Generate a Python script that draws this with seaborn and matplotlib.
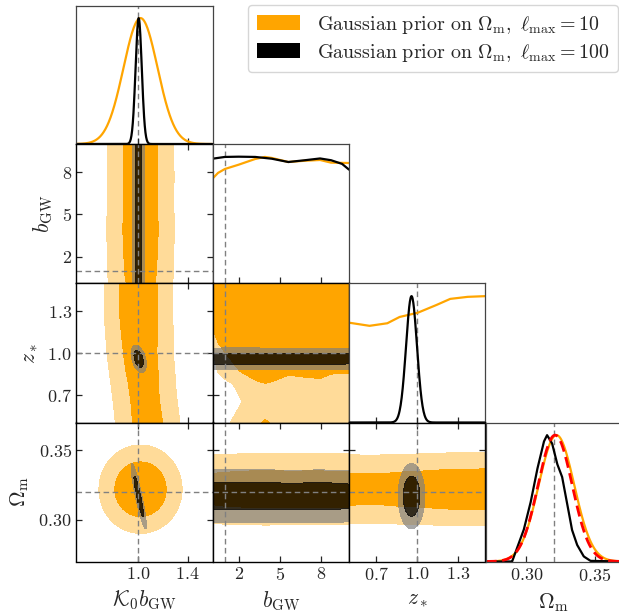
import numpy as np
import pandas as pd
import matplotlib
matplotlib.use("Agg")
import matplotlib.pyplot as plt
import seaborn as sns
from matplotlib.patches import Patch

# ---------------- data ----------------
param_labels = [r"$\mathcal{K}_0 b_{\rm GW}$", r"$b_{\rm GW}$", r"$z_*$", r"$\Omega_{\rm m}$"]
param_ranges = [(0.5, 1.6), (0.1, 10.0), (0.5, 1.5), (0.27, 0.37)]
param_ticks = [[1.0, 1.4], [2, 5, 8], [0.7, 1.0, 1.3], [0.30, 0.35]]
param_ticklabels = [["1.0", "1.4"], ["2", "5", "8"], ["0.7", "1.0", "1.3"], ["0.30", "0.35"]]
truth_values = [1.0, 1.0, 1.0, 0.32]
legend_labels = [r"$\mathrm{Gaussian\ prior\ on\ }\Omega_{\rm m},\ \ell_{\rm max} = 10$",
                 r"$\mathrm{Gaussian\ prior\ on\ }\Omega_{\rm m},\ \ell_{\rm max} = 100$"]

# orange chain (lmax = 10)
or_K0_mean, or_K0_sigma = 1.02, 0.137
or_K0_cond_z = [0.5, 0.75, 1.0, 1.25, 1.5]          # K0 centre as a function of z*
or_K0_cond_mean = [1.077, 1.045, 1.017, 1.005, 1.003]
or_bgw_x = [0.1, 0.5, 1.0, 2.0, 3.2, 3.9, 4.4, 5.6, 6.8, 7.9, 8.7, 10.0]
or_bgw_p = [0.827, 0.872, 0.903, 0.937, 0.982, 0.998, 0.99, 0.958, 0.968, 0.974, 0.953, 0.95]
or_z_x = [0.5, 0.65, 0.78, 0.87, 1.0, 1.12, 1.24, 1.36, 1.5]
or_z_p = [0.79, 0.765, 0.785, 0.835, 0.867, 0.92, 0.978, 0.994, 1.0]
or_Om_mean, or_Om_sigma = 0.322, 0.013

# black chain (lmax = 100)
bk_means = [1.005, np.nan, 0.958, 0.317]
bk_sigmas = [0.025, np.nan, 0.04, 0.0096]
bk_corr = {(0, 2): -0.4, (0, 3): -0.9, (2, 3): 0.0}
bk_bgw_x = [0.1, 1.0, 2.0, 3.2, 4.4, 5.6, 6.8, 7.9, 8.7, 9.5, 10.0]
bk_bgw_p = [0.984, 0.998, 1.0, 0.998, 0.984, 0.958, 0.972, 0.986, 0.972, 0.943, 0.898]
bk_Om_x = [0.27, 0.2895, 0.298, 0.3029, 0.3078, 0.3127, 0.3151, 0.3188, 0.3224,
           0.3261, 0.3298, 0.3334, 0.3371, 0.342, 0.3468, 0.37]
bk_Om_p = [0.0, 0.0, 0.25, 0.46, 0.724, 0.947, 1.0, 0.934, 0.776,
           0.671, 0.461, 0.25, 0.132, 0.04, 0.005, 0.0]

# red dashed: Gaussian prior on Omega_m
prior_Om_mean, prior_Om_sigma = 0.321, 0.0125

# ---------------- style ----------------
sns.set_style("ticks")
plt.rcParams["font.family"] = "serif"
plt.rcParams["font.serif"] = ["cmr10", "DejaVu Serif"]
plt.rcParams["mathtext.fontset"] = "cm"
plt.rcParams["axes.unicode_minus"] = False

ORANGE = "#FFA500"
ORANGE_LIGHT = "#FFDB99"
GREY_RING = "#7d7d7d"
TRUTH_C = "#808080"
TICK_FS = 13
LABEL_FS = 15.5

def gauss(x, m, s):
    return np.exp(-0.5 * ((x - m) / s) ** 2)

def or_marg(k, x):
    if k == 0:
        return gauss(x, or_K0_mean, or_K0_sigma)
    if k == 1:
        return np.interp(x, or_bgw_x, or_bgw_p)
    if k == 2:
        return np.interp(x, or_z_x, or_z_p)
    return gauss(x, or_Om_mean, or_Om_sigma)

def or_joint(i, j, X, Y):
    if (i, j) == (2, 0):
        return gauss(X, np.interp(Y, or_K0_cond_z, or_K0_cond_mean), or_K0_sigma) * or_marg(2, Y)
    return or_marg(j, X) * or_marg(i, Y)

def bk_marg(k, x):
    if k == 1:
        return np.interp(x, bk_bgw_x, bk_bgw_p)
    return gauss(x, bk_means[k], bk_sigmas[k])

def bk_marg_1d(k, x):
    if k == 3:
        return np.interp(x, bk_Om_x, bk_Om_p)
    return bk_marg(k, x)

def bk_joint(i, j, X, Y):
    if i == 1 or j == 1:
        return bk_marg(j, X) * bk_marg(i, Y)
    rho = bk_corr[(j, i)]
    u = (X - bk_means[j]) / bk_sigmas[j]
    v = (Y - bk_means[i]) / bk_sigmas[i]
    return np.exp(-0.5 * (u * u - 2 * rho * u * v + v * v) / (1 - rho ** 2))

def hpd_levels(P, fracs=(0.95, 0.68)):
    flat = np.sort(P.ravel())[::-1]
    c = np.cumsum(flat)
    c /= c[-1]
    return [flat[min(np.searchsorted(c, f), flat.size - 1)] for f in fracs]

# ---------------- layout ----------------
W, H = 619, 613
fig = plt.figure(figsize=(W / 100, H / 100), dpi=100)
xedges = [76, 212.5, 349, 485.5, 622]
yedges = [5.5, 144, 283.5, 422.5, 561.5]
n = 4
axes = {}
for i in range(n):
    for j in range(i + 1):
        x0, x1 = xedges[j], xedges[j + 1]
        y0, y1 = yedges[i], yedges[i + 1]
        axes[(i, j)] = fig.add_axes([x0 / W, 1 - y1 / H, (x1 - x0) / W, (y1 - y0) / H])

truth_ls = (0, (4, 2.5))
LW = 1.6

for i in range(n):
    for j in range(i + 1):
        ax = axes[(i, j)]
        xr = param_ranges[j]
        if i == j:
            xs = np.linspace(xr[0], xr[1], 400)
            if i != 1:
                df = pd.DataFrame({"x": xs, "orange": or_marg(i, xs), "black": bk_marg_1d(i, xs)})
                sns.lineplot(data=df, x="x", y="orange", ax=ax, color=ORANGE, lw=LW, estimator=None, sort=False)
                sns.lineplot(data=df, x="x", y="black", ax=ax, color="black", lw=LW, estimator=None, sort=False)
            else:
                sns.lineplot(x=or_bgw_x, y=or_bgw_p, ax=ax, color=ORANGE, lw=LW, estimator=None, sort=False)
                sns.lineplot(x=bk_bgw_x, y=bk_bgw_p, ax=ax, color="black", lw=LW, estimator=None, sort=False)
            if i == 3:
                sns.lineplot(x=xs, y=gauss(xs, prior_Om_mean, prior_Om_sigma), ax=ax, color="red",
                             lw=2.0, linestyle=(0, (4, 2)), estimator=None, sort=False)
            ax.axvline(truth_values[i], color=TRUTH_C, lw=1.0, ls=truth_ls, zorder=0)
            ax.set_xlim(*xr)
            ax.set_ylim(0, 1.1)
            ax.set_yticks([])
            ax.tick_params(axis="x", direction="in", bottom=True, top=False, length=4, width=0.9,
                           labelbottom=(i == n - 1), labelsize=TICK_FS, pad=4)
            for s in ax.spines.values():
                s.set_color("#444444")
                s.set_linewidth(0.9)
        else:
            yr = param_ranges[i]
            xs = np.linspace(xr[0], xr[1], 300)
            ys = np.linspace(yr[0], yr[1], 300)
            X, Y = np.meshgrid(xs, ys)
            P = or_joint(i, j, X, Y)
            t95, t68 = hpd_levels(P)
            ax.contourf(X, Y, P, levels=[t95, t68, P.max() * 1.01], colors=[ORANGE_LIGHT, ORANGE])
            Q = bk_joint(i, j, X, Y)
            b95, b68 = hpd_levels(Q)
            ax.contourf(X, Y, Q, levels=[b95, b68], colors=[GREY_RING], alpha=0.67)
            ax.contourf(X, Y, Q, levels=[b68, Q.max() * 1.01], colors=["black"], alpha=0.8)
            ax.axvline(truth_values[j], color=TRUTH_C, lw=1.0, ls=truth_ls)
            ax.axhline(truth_values[i], color=TRUTH_C, lw=1.0, ls=truth_ls)
            ax.set_xlim(*xr)
            ax.set_ylim(*yr)
            ax.set_yticks(param_ticks[i])
            ax.set_yticklabels(["$%s$" % t for t in param_ticklabels[i]])
            ax.tick_params(direction="in", top=True, right=True, length=4, width=0.9,
                           labelsize=TICK_FS, pad=3,
                           labelleft=(j == 0), labelbottom=(i == n - 1))
            if j == 0:
                ax.set_ylabel(param_labels[i], fontsize=LABEL_FS, labelpad=5)
            for s in ax.spines.values():
                s.set_color("black")
                s.set_linewidth(1.0)
        ax.set_xticks(param_ticks[j])
        ax.set_xticklabels(["$%s$" % t for t in param_ticklabels[j]])
        if i == n - 1:
            ax.set_xlabel(param_labels[j], fontsize=LABEL_FS, labelpad=5)
        else:
            ax.set_xlabel("")
        if i == j or j != 0:
            ax.set_ylabel("")

handles = [Patch(facecolor=ORANGE, edgecolor="none"), Patch(facecolor="black", edgecolor="none")]
fig.legend(handles, legend_labels, loc="upper left", bbox_to_anchor=(248 / W, 1 - 5 / H),
           fontsize=14.4, frameon=True, handlelength=2.19, handleheight=0.75, handletextpad=0.85,
           borderpad=0.43, labelspacing=0.3, borderaxespad=0.0)

fig.savefig("out.png", dpi=100)
